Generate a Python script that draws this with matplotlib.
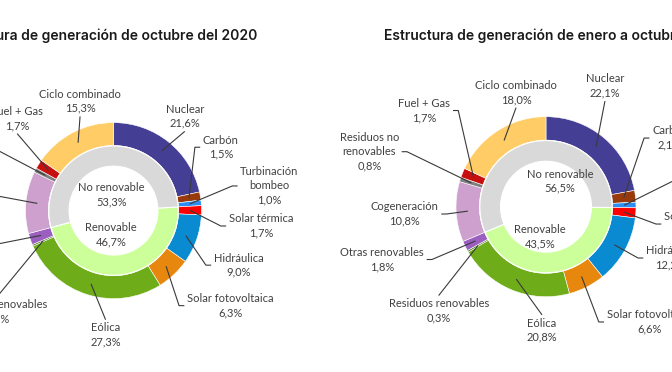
import matplotlib
matplotlib.use('Agg')
import matplotlib.pyplot as plt
import numpy as np

# Datos (%), en orden horario desde las 12
fuentes = ['Nuclear', 'Carbón', 'Turbinación\nbombeo', 'Solar térmica', 'Hidráulica',
           'Solar fotovoltaica', 'Eólica', 'Residuos renovables', 'Otras renovables',
           'Cogeneración', 'Residuos no\nrenovables', 'Fuel + Gas', 'Ciclo combinado']
renovable = [False, False, False, True, True, True, True, True, True,
             False, False, False, False]
octubre_2020 = [21.6, 1.5, 1.0, 1.7, 9.0, 6.3, 27.3, 0.3, 2.1, 11.4, 0.8, 1.7, 15.3]
enero_octubre_2020 = [22.1, 2.1, 1.0, 1.8, 12.2, 6.6, 20.8, 0.3, 1.8, 10.8, 0.8, 1.7, 18.0]

titulo_izq = 'Estructura de generación de octubre del 2020'
titulo_der = 'Estructura de generación de enero a octubre del 2020'

colores = ['#443F94', '#983A0C', '#2C8EF2', '#FF0000', '#0A8AD0', '#E8870E',
           '#6FAC1A', '#4E7F1C', '#9B5FC0', '#CDA0CD', '#7F7F7F', '#C80F0F', '#FFCC66']
col_norenov = '#D9D9D9'
col_renov = '#CCFF99'
gris_txt = '#404040'

# posiciones de etiquetas (en radios) y lado por el que llega la línea guía
pos_izq = [(0.81, 0.93, 'b'), (1.015, 0.72, 'l'), (1.44, 0.28, 'l'), (1.31, -0.175, 'l'),
           (1.14, -0.62, 'l'), (0.835, -1.08, 'l'), (-0.09, -1.27, 't'), (-1.32, -1.005, 't'),
           (-1.46, -0.39, 'r'), (-1.43, 0.17, 'r'), (-1.52, 0.745, 'r'), (-1.095, 0.905, 'b'),
           (-0.38, 1.10, 'b')]
pos_der = [(0.67, 1.23, 'b'), (1.205, 0.78, 'l'), (1.55, 0.3, 'l'), (1.34, -0.197, 'l'),
           (1.136, -0.583, 'l'), (0.69, -1.31, 'l'), (-0.045, -1.26, 't'), (-1.22, -1.04, 't'),
           (-1.386, -0.6, 'r'), (-1.22, -0.083, 'r'), (-1.67, 0.625, 'r'), (-1.087, 1.093, 'r'),
           (-0.34, 1.156, 'b')]
# textos del centro: (x, y) de "No renovable" y de "Renovable"
centro_izq = [(-0.02, 0.18), (-0.03, -0.27)]
centro_der = [(0.16, 0.29), (-0.07, -0.34)]

W, H = 672, 372
PX = 88.0      # píxeles por unidad de radio
HALF = 220.0   # media caja de ejes en píxeles

fig = plt.figure(figsize=(W / 100, H / 100), dpi=100)
fig.patch.set_facecolor('white')


def fmt(v):
    return f'{v:.1f}%'.replace('.', ',')


def dona(cx, cy, valores, posiciones, centro, r):
    ax = fig.add_axes([(cx - HALF) / W, (H - cy - HALF) / H, 2 * HALF / W, 2 * HALF / H])
    ax.axis('off')
    wedges, _ = ax.pie(valores, colors=colores, startangle=90, counterclock=False,
                       radius=r, wedgeprops=dict(width=0.26 * r, edgecolor='white', linewidth=0.4))
    # anillo interior: renovable / no renovable
    antes = 0.0
    for v, ren in zip(valores, renovable):
        if ren:
            break
        antes += v
    ren_tot = sum(v for v, ren in zip(valores, renovable) if ren)
    nor_tot = sum(valores) - ren_tot
    ax.pie([ren_tot, nor_tot], colors=[col_renov, col_norenov], startangle=90 - 3.6 * antes,
           counterclock=False, radius=0.735 * r,
           wedgeprops=dict(width=0.23 * r, edgecolor='white', linewidth=0.8))
    ax.set_xlim(-HALF / PX, HALF / PX)
    ax.set_ylim(-HALF / PX, HALF / PX)

    (nx, ny), (rx, ry) = centro
    ax.text(nx, ny, 'No renovable\n' + fmt(nor_tot), ha='center', va='center',
            fontsize=8, family='Lato', color=gris_txt, linespacing=1.35)
    ax.text(rx, ry, 'Renovable\n' + fmt(ren_tot), ha='center', va='center',
            fontsize=8, family='Lato', color=gris_txt, linespacing=1.35)

    gap, tick = 0.03, 0.06
    for w, nombre, v, (tx, ty, lado) in zip(wedges, fuentes, valores, posiciones):
        ang = np.deg2rad((w.theta1 + w.theta2) / 2)
        wx, wy = 0.87 * r * np.cos(ang), 0.87 * r * np.sin(ang)
        if lado == 'l':
            ha, va = 'left', 'center'
            xs, ys = [wx, tx - gap - tick, tx - gap], [wy, ty, ty]
        elif lado == 'r':
            ha, va = 'right', 'center'
            xs, ys = [wx, tx + gap + tick, tx + gap], [wy, ty, ty]
        elif lado == 'b':
            ha, va = 'center', 'bottom'
            xs, ys = [wx, tx], [wy, ty - gap]
        else:
            ha, va = 'center', 'top'
            xs, ys = [wx, tx], [wy, ty + gap]
        ax.plot(xs, ys, color='#3A3A3A', lw=0.8, solid_capstyle='butt', clip_on=False)
        ax.text(tx, ty, nombre + '\n' + fmt(v), ha=ha, va=va, multialignment='center',
                fontsize=8, family='Lato', color=gris_txt, linespacing=1.35)
    return ax


dona(113.5, 210.6, octubre_2020, pos_izq, centro_izq, 1.0)
dona(546.0, 206.7, enero_octubre_2020, pos_der, centro_der, 90 / 88)

fig.text(257 / W, 1 - 36 / H, titulo_izq, ha='right', va='center', fontsize=10,
         family='Inter', weight='semibold', color='#1A1A1A')
fig.text(384 / W, 1 - 36 / H, titulo_der, ha='left', va='center', fontsize=10,
         family='Inter', weight='semibold', color='#1A1A1A')

fig.savefig('out.png', dpi=100, facecolor='white')
